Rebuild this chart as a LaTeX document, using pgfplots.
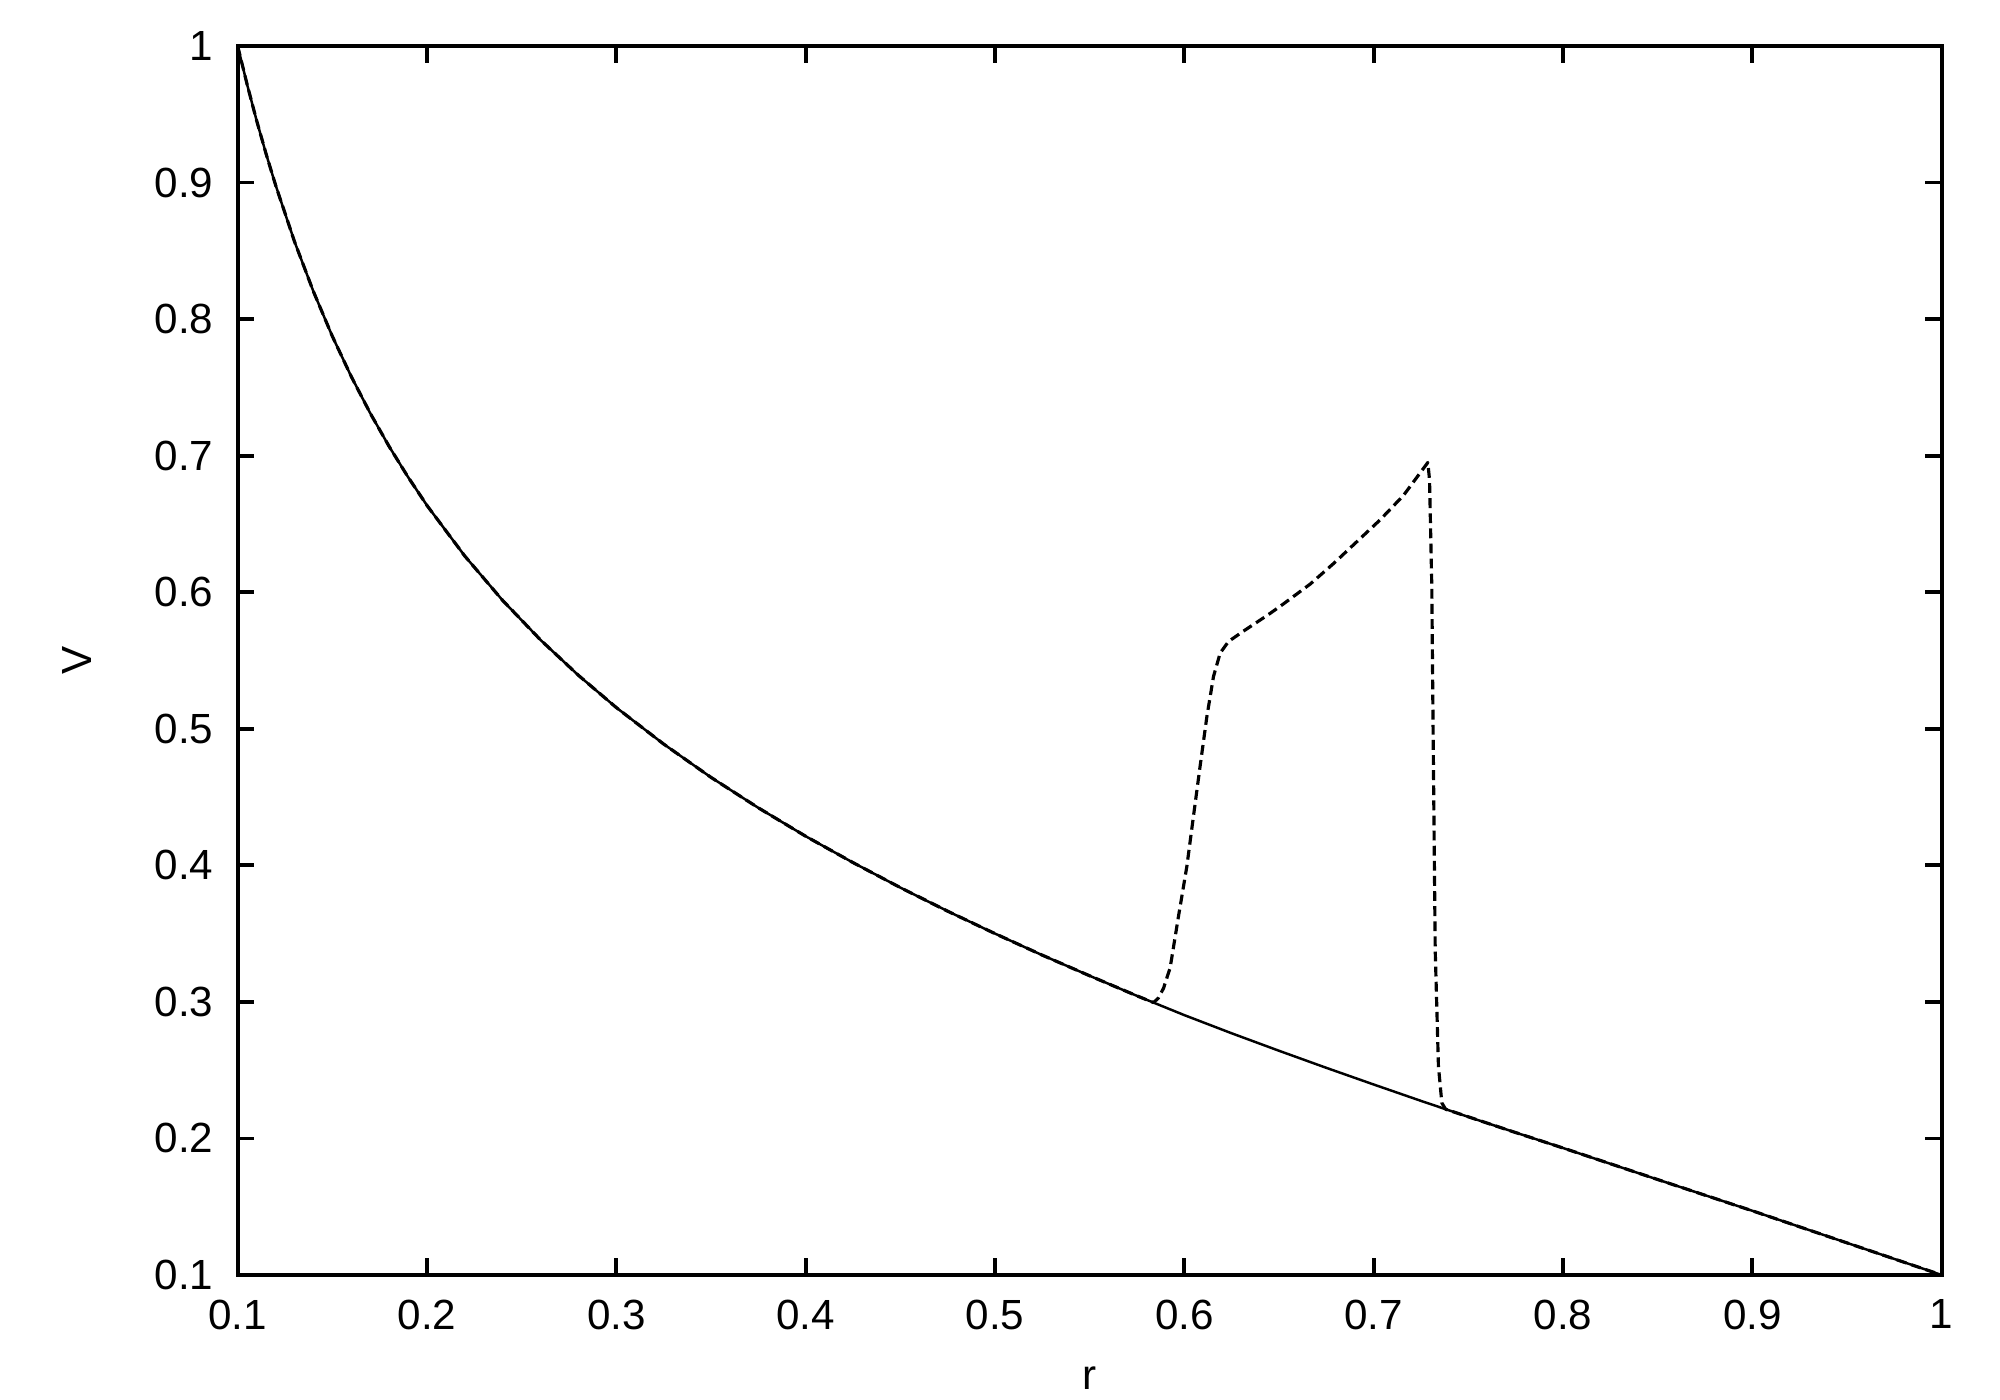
\documentclass[border=0pt]{standalone}
\usepackage{pgfplots}
\pgfplotsset{compat=1.18}
\usepackage{fontspec}
\setmainfont{Liberation Sans}

% stationary profile V(r) (solid)
\pgfplotstableread{
r V
0.100 1.0000
0.105 0.9717
0.110 0.9454
0.115 0.9210
0.120 0.8982
0.130 0.8568
0.140 0.8202
0.150 0.7874
0.160 0.7579
0.170 0.7311
0.180 0.7067
0.190 0.6843
0.200 0.6635
0.220 0.6264
0.240 0.5939
0.260 0.5650
0.280 0.5391
0.300 0.5155
0.325 0.4888
0.350 0.4644
0.375 0.4421
0.400 0.4213
0.425 0.4020
0.450 0.3837
0.475 0.3664
0.500 0.3500
0.525 0.3342
0.550 0.3191
0.575 0.3044
0.600 0.2903
0.625 0.2770
0.650 0.2642
0.675 0.2517
0.700 0.2395
0.725 0.2275
0.750 0.2158
0.775 0.2043
0.800 0.1930
0.850 0.1699
0.900 0.1470
0.950 0.1235
1.000 0.1000
}\basecurve

% perturbed profile (dashed)
\pgfplotstableread{
r V
0.100 1.0000
0.105 0.9717
0.110 0.9454
0.115 0.9210
0.120 0.8982
0.130 0.8568
0.140 0.8202
0.150 0.7874
0.160 0.7579
0.170 0.7311
0.180 0.7067
0.190 0.6843
0.200 0.6635
0.220 0.6264
0.240 0.5939
0.260 0.5650
0.280 0.5391
0.300 0.5155
0.325 0.4888
0.350 0.4644
0.375 0.4421
0.400 0.4213
0.425 0.4020
0.450 0.3837
0.475 0.3664
0.500 0.3500
0.525 0.3342
0.550 0.3191
0.575 0.3044
0.5837 0.2995
0.5863 0.3028
0.5890 0.3100
0.5925 0.3250
0.5969 0.3626
0.6013 0.3990
0.6048 0.4358
0.6083 0.4724
0.6119 0.5090
0.6154 0.5383
0.6189 0.5554
0.6233 0.5639
0.6312 0.5715
0.6383 0.5780
0.6453 0.5845
0.6524 0.5915
0.6665 0.6060
0.6788 0.6210
0.6911 0.6370
0.7034 0.6530
0.7158 0.6710
0.7286 0.6950
0.7295 0.6823
0.7307 0.6042
0.7313 0.5115
0.7325 0.3380
0.7342 0.2530
0.7360 0.2260
0.7380 0.2214
0.750 0.2158
0.775 0.2043
0.800 0.1930
0.850 0.1699
0.900 0.1470
0.950 0.1235
1.000 0.1000
}\bumpcurve

\begin{document}
\begin{tikzpicture}
\path[use as bounding box] (-2.377,-1.25) rectangle (17.623,12.75);
\begin{axis}[
  at={(0,0)}, anchor=south west,
  scale only axis,
  width=17.04cm, height=12.29cm,
  xmin=0.1, xmax=1, ymin=0.1, ymax=1,
  xtick={0.1,0.2,0.3,0.4,0.5,0.6,0.7,0.8,0.9,1},
  ytick={0.1,0.2,0.3,0.4,0.5,0.6,0.7,0.8,0.9,1},
  tick align=inside,
  major tick length=0.167cm,
  every tick/.style={black, line width=1.1pt},
  axis line style={line width=1.1pt},
  /pgf/number format/assume math mode=true,
  tick label style={font=\fontsize{12}{14}\selectfont},
  xticklabel style={yshift=-0.125cm},
  yticklabel style={xshift=-0.12cm},
  xlabel={r}, ylabel={V},
  label style={font=\fontsize{12}{14}\selectfont},
  xlabel style={at={(0.5,0)}, anchor=center, yshift=-1.03cm},
  ylabel style={at={(0,0.5)}, anchor=center, yshift=1.61cm},
]
\addplot[black, line width=0.7pt, line join=round] table[x=r, y=V] {\basecurve};
\addplot[black, line width=0.9pt, line join=round, dash pattern=on 2.8pt off 1.5pt] table[x=r, y=V] {\bumpcurve};
\end{axis}
\end{tikzpicture}
\end{document}
